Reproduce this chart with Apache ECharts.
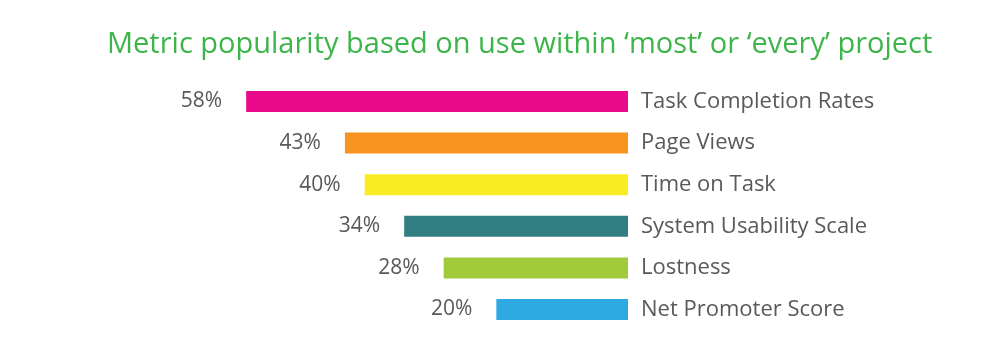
<!DOCTYPE html>
<html><head><meta charset="utf-8">
<script src="https://cdn.jsdelivr.net/npm/echarts@6/dist/echarts.min.js"></script>
<style>html,body{margin:0;padding:0;background:#fff}#c{width:1000px;height:352px}</style>
</head><body><div id="c"></div>
<script>
const titleText = "Metric popularity based on use within ‘most’ or ‘every’ project";
const categories = ["Task Completion Rates","Page Views","Time on Task","System Usability Scale","Lostness","Net Promoter Score"];
const values = [58,43,40,34,28,20];
const colors = ["#EA0A8C","#F7931E","#F8EC22","#327F83","#9FCB3B","#2DAAE2"];

const chart = echarts.init(document.getElementById('c'), null, {renderer:'canvas'});
chart.setOption({
  animation:false,
  title:{text:titleText,left:102,top:25,textStyle:{color:'#3DB54A',fontFamily:'Open Sans',fontWeight:'normal',fontSize:29}},
  grid:{left:233,right:372,top:80.7,bottom:21.7,containLabel:false},
  xAxis:{type:'value',inverse:true,min:0,max:60,show:false},
  yAxis:{type:'category',data:categories,inverse:true,position:'right',
    axisLine:{show:false},axisTick:{show:false},splitLine:{show:false},
    axisLabel:{margin:13,color:'#58595B',fontFamily:'Open Sans',fontSize:22,align:'left',padding:[3,0,0,0]}},
  series:[{type:'bar',barWidth:21,
    data:values.map((v,i)=>({value:v,itemStyle:{color:colors[i]}})),
    label:{show:true,position:'left',distance:24,formatter:'{c}%',color:'#58595B',fontFamily:'Open Sans',fontSize:21,padding:[4,0,0,0]}}]
});
</script></body></html>
